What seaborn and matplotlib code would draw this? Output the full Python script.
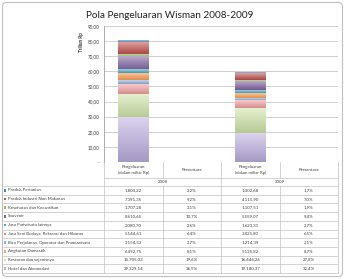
import matplotlib
matplotlib.use('Agg')
from matplotlib import pyplot as plt
from matplotlib.patches import FancyBboxPatch, Rectangle
from matplotlib.colors import LinearSegmentedColormap, to_rgb
import seaborn as sns
import pandas as pd
import numpy as np

# data (table order, top row first)
categories = [
    'Produk Pertanian',
    'Produk Industri Non Makanan',
    'Kesehatan dan Kecantikan',
    'Souvenir',
    'Jasa Pariwisata lainnya',
    'Jasa Seni Budaya, Rekreasi dan Hiburan',
    'Biro Perjalanan, Operator dan Pramuwisata',
    'Angkutan Domestik',
    'Restoran dan sejenisnya',
    'Hotel dan Akomodasi',
]
spend_2008 = [1800.22, 7391.35, 1707.28, 8610.65, 2080.70, 5144.61, 2154.53, 6492.75, 15705.03, 29329.14]
pct_2008 = [2.2, 9.2, 2.1, 10.7, 2.6, 6.4, 2.7, 8.1, 19.6, 36.5]
spend_2009 = [1002.68, 4115.90, 1107.51, 5559.07, 1623.31, 3825.80, 1214.39, 5125.82, 16446.26, 19180.37]
pct_2009 = [1.7, 7.0, 1.9, 9.4, 2.7, 6.5, 2.1, 8.7, 27.8, 32.4]
years = ['2008', '2009']
columns = ['Pengeluaran\n(dalam miliar Rp)', 'Persentase', 'Pengeluaran\n(dalam miliar Rp)', 'Persentase']
colors = ['#4f81bd', '#c0504d', '#9bbb59', '#8064a2', '#4bacc6',
          '#f79646', '#95b3e0', '#f2a0a0', '#d0e4a8', '#bcaee0']

col_keys = ['p08', 'q08', 'p09', 'q09']

W, H = 345, 279
fig = plt.figure(figsize=(W / 100, H / 100), dpi=100)
sns.set_style('white')
plt.rcParams['font.family'] = ['Lato', 'DejaVu Sans']


def px(x0, y0, x1, y1):
    return [x0 / W, 1 - y1 / H, (x1 - x0) / W, (y1 - y0) / H]


def mix(c, other, t):
    c = np.array(to_rgb(c))
    return tuple(c + (np.array(other) - c) * t)


ax = fig.add_axes(px(104, 26, 338, 162))

# stacked bars drawn as cumulative totals, tallest first
n = len(categories)
levels = []
for i in range(n):
    cum08 = sum(spend_2008[i:]) / 1000
    cum09 = sum(spend_2009[i:]) / 1000
    df = pd.DataFrame({'col': ['p08', 'p09'], 'val': [cum08, cum09]})
    before = len(ax.patches)
    sns.barplot(data=df, x='col', y='val', order=col_keys, color=colors[i],
                saturation=1, width=0.52, errorbar=None, linewidth=0,
                edgecolor='none', ax=ax, zorder=3)
    levels.append(ax.patches[before:])

# excel-like vertical gradient on each visible segment
grad = np.linspace(0, 1, 64).reshape(-1, 1)
for i, patches in enumerate(levels):
    cmap = LinearSegmentedColormap.from_list(f'g{i}', [mix(colors[i], (0, 0, 0), 0.12),
                                                     mix(colors[i], (1, 1, 1), 0.45)])
    for j, p in enumerate(patches):
        x, w, top = p.get_x(), p.get_width(), p.get_height()
        if top <= 0:
            continue
        bottom = levels[i + 1][j].get_height() if i + 1 < n else 0
        ax.imshow(grad, extent=[x, x + w, bottom, top], origin='lower', aspect='auto',
                  cmap=cmap, zorder=4, interpolation='bilinear')

ax.set_xlim(-0.5, 3.5)
ax.set_ylim(0, 90)
ax.set_yticks(range(0, 91, 10))
ax.set_yticklabels(['-' if v == 0 else f'{v:.2f}'.replace('.', ',') for v in range(0, 91, 10)],
                   fontsize=3.3, color='#404040')
ax.set_xticks([])
ax.set_xlabel('')
ax.set_ylabel('')
ax.grid(axis='y', color='#c8c8c8', linewidth=0.6, zorder=0)
for s in ['top', 'right', 'bottom']:
    ax.spines[s].set_visible(False)
ax.spines['left'].set_color('#a0a0a0')
ax.spines['left'].set_linewidth(0.6)
ax.tick_params(axis='y', length=0, pad=3)

# overlay for title, table and frame (pixel coordinates)
tax = fig.add_axes([0, 0, 1, 1], zorder=-1)
tax.set_xlim(0, W)
tax.set_ylim(H, 0)
tax.axis('off')
tax.add_patch(FancyBboxPatch((2.5, 2.5), W - 5, H - 5, boxstyle='round,pad=0,rounding_size=4',
                             fill=False, edgecolor='#bfbfbf', linewidth=0.8))

fig.text(170 / W, 1 - 15 / H, 'Pola Pengeluaran Wisman 2008-2009', ha='center', va='center',
         fontsize=7.2, color='#222222')
fig.text(81 / W, 1 - 42 / H, 'Triliun Rp', rotation=90, ha='center', va='center',
         fontsize=3.3, fontweight='bold', color='#333333')

lc = '#c0c0c0'
lw = 0.5
col_edges = [104, 162.5, 221, 279.5, 338]
col_centers = [(col_edges[k] + col_edges[k + 1]) / 2 for k in range(4)]
row_top = 186
row_h = 8.7

tax.plot([104, 338], [178, 178], color=lc, lw=lw)
tax.plot([3, 338], [row_top, row_top], color=lc, lw=lw)
for r in range(1, n + 1):
    y = row_top + r * row_h
    tax.plot([3, 338], [y, y], color=lc, lw=lw)
ybot = row_top + n * row_h
tax.plot([104, 104], [162, ybot], color=lc, lw=lw)
tax.plot([221, 221], [162, ybot], color=lc, lw=lw)
tax.plot([338, 338], [162, ybot], color=lc, lw=lw)
for xe in (162.5, 279.5):
    tax.plot([xe, xe], [162, 178], color=lc, lw=lw)
    tax.plot([xe, xe], [row_top, ybot], color=lc, lw=lw)

for k, label in enumerate(columns):
    tax.text(col_centers[k], 170, label, ha='center', va='center', fontsize=3.2,
             color='#404040', linespacing=1.5)
for k, yr in enumerate(years):
    tax.text(col_edges[2 * k + 1], 182.2, yr, ha='center', va='center', fontsize=3.2, color='#404040')

for r in range(n):
    yc = row_top + (r + 0.5) * row_h
    tax.add_patch(Rectangle((3.5, yc - 1.3), 2.6, 2.6, color=colors[r], lw=0))
    tax.text(7.5, yc, categories[r], ha='left', va='center', fontsize=3.2, color='#404040')
    cells = [f'{spend_2008[r]:,.2f}', f'{pct_2008[r]:.1f}%', f'{spend_2009[r]:,.2f}', f'{pct_2009[r]:.1f}%']
    for k, c in enumerate(cells):
        c = c.replace(',', 'X').replace('.', ',').replace('X', '.')
        tax.text(col_centers[k], yc, c, ha='center', va='center', fontsize=3.2, color='#404040')

fig.savefig('out.png', dpi=100, facecolor='white')
